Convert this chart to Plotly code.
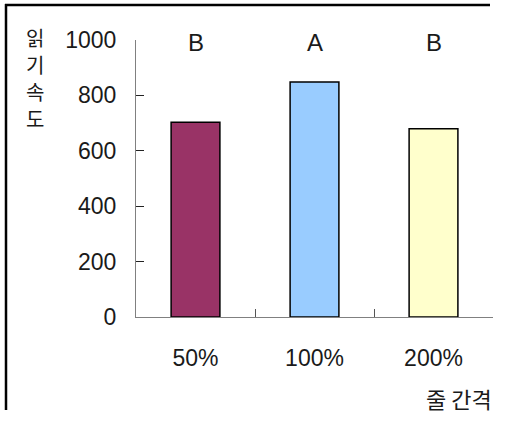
import plotly.graph_objects as go

# Reading speed by line spacing
categories = ["50%", "100%", "200%"]
speeds = [703, 848, 680]
groups = ["B", "A", "B"]
bar_colors = ["#993366", "#99CCFF", "#FFFFCC"]
y_ticks = [0, 200, 400, 600, 800, 1000]
y_title = ["읽", "기", "속", "도"]
x_title = "줄 간격"

W, H = 505, 426
L, R, T, B = 136, 12, 40, 109
pw, ph = W - L - R, H - T - B

def px_x(p):
    return (p - L) / pw

def px_y(p):
    return (H - B - p) / ph

num_font = dict(family="Liberation Sans, Arial, sans-serif", size=23, color="#1a1a1a")
grp_font = dict(family="Liberation Sans, Arial, sans-serif", size=24, color="#1a1a1a")
kr_font = dict(family="Noto Sans CJK KR, sans-serif", size=20, color="#1a1a1a")
kr_font_x = dict(family="Noto Sans CJK KR, sans-serif", size=22, color="#1a1a1a")

fig = go.Figure(
    go.Bar(
        x=categories,
        y=speeds,
        width=0.41,
        marker=dict(color=bar_colors, line=dict(color="#000000", width=1.5)),
        hoverinfo="skip",
    )
)

# significance groups above each bar
for c, g in zip(categories, groups):
    fig.add_annotation(x=c, y=1000, text=g, showarrow=False, yanchor="middle",
                       yshift=-2, font=grp_font)

# y-axis title, one syllable per line
for i, ch in enumerate(y_title):
    fig.add_annotation(xref="paper", yref="paper", x=px_x(35), y=px_y(38 + 26.7 * i),
                       text=ch, showarrow=False,
                       xanchor="center", yanchor="middle", font=kr_font)

# x-axis title
fig.add_annotation(xref="paper", yref="paper", x=px_x(494), y=px_y(398),
                   text=x_title, showarrow=False,
                   xanchor="right", yanchor="middle", font=kr_font_x)

# frame lines along the top and left edges
fig.add_shape(type="line", xref="paper", yref="paper",
              x0=px_x(5), x1=px_x(490), y0=px_y(5), y1=px_y(5),
              line=dict(color="#000000", width=2.5))
fig.add_shape(type="line", xref="paper", yref="paper",
              x0=px_x(6), x1=px_x(6), y0=px_y(4), y1=px_y(410),
              line=dict(color="#000000", width=2.5))

fig.update_layout(
    width=W, height=H,
    margin=dict(l=L, r=R, t=T, b=B, pad=0),
    paper_bgcolor="white", plot_bgcolor="white",
    showlegend=False,
    xaxis=dict(
        type="category", range=[-0.5, 2.5],
        showline=True, linecolor="#808080", linewidth=1.2,
        ticks="inside", tickson="boundaries", ticklen=8, tickcolor="#555555",
        tickwidth=1,
        showgrid=False, zeroline=False,
        tickfont=num_font, ticklabelstandoff=20,
    ),
    yaxis=dict(
        range=[0, 1000], tickvals=y_ticks,
        showline=True, linecolor="#808080", linewidth=1.2,
        ticks="inside", ticklen=8, tickcolor="#222222", tickwidth=1,
        showgrid=False, zeroline=False,
        tickfont=num_font, ticklabelstandoff=14,
    ),
)

fig.write_html("out.html")
